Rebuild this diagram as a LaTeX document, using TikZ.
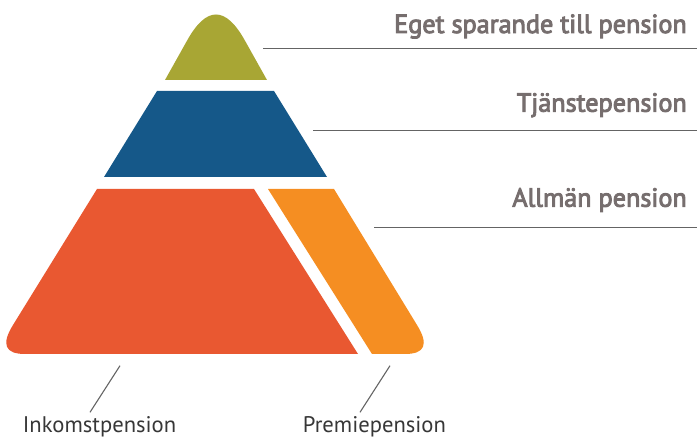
\documentclass[tikz,border=0pt]{standalone}
\usepackage{fontspec}
\setmainfont{PT Sans}
\newfontfamily\headfont[FakeBold=3.5]{PT Sans}
\newfontfamily\labfont{PT Sans}
\definecolor{cgreen}{RGB}{168,166,52}
\definecolor{cblue}{RGB}{21,88,137}
\definecolor{cred}{RGB}{233,88,49}
\definecolor{corange}{RGB}{245,142,34}
\definecolor{cline}{RGB}{100,100,100}
\definecolor{chead}{RGB}{118,110,110}
\definecolor{clab}{RGB}{55,55,55}
\tikzset{
  leader/.style={draw=cline, line width=1.1pt},
  head/.style={inner sep=0pt, anchor=base east, text=chead, font=\headfont\fontsize{26.2}{29}\selectfont},
  lab/.style={inner sep=0pt, anchor=base west, text=clab, font=\labfont\fontsize{22.6}{26}\selectfont},
}
\begin{document}
\begin{tikzpicture}[x=1pt,y=-1pt]
\useasboundingbox (0,0) rectangle (697,438);
% pyramid layers
\fill[cgreen] (165,80) -- (187.4,40) .. controls (206.5,6) and (225.5,6) .. (244.6,40) -- (267,80) -- cycle;
\fill[cblue] (157,91) -- (274,91) -- (327,177) -- (104,177) -- cycle;
\fill[cred] (97,189) -- (254,189) -- (358,354) -- (25,354) .. controls (5,354) and (1,344.3) .. (13,325) -- cycle;
\fill[corange] (268,189) -- (334,189) -- (417,325) .. controls (429,344.3) and (425,354) .. (405,354) -- (372,354) -- cycle;
% labels
\node[head] (eget) at (687,33) {Eget sparande till pension};
\node[head] (tjanst) at (687,111.7) {Tjänstepension};
\node[head] (allman) at (687,206.7) {Allmän pension};
\node[lab] (inkomst) at (22.7,433) {Inkomstpension};
\node[lab] (premie) at (302.7,433) {Premiepension};
% leader ends
\coordinate (egetL) at (263,48.7);
\coordinate (egetR) at (697,48.7);
\coordinate (tjanstL) at (313,130.3);
\coordinate (tjanstR) at (697,130.3);
\coordinate (allmanL) at (374,227.7);
\coordinate (allmanR) at (697,227.7);
\coordinate (inkA) at (120,365.7);
\coordinate (inkB) at (90,412.3);
\coordinate (preA) at (390,365.7);
\coordinate (preB) at (360,412.3);
\draw[leader] (egetL) -- (egetR);
\draw[leader] (tjanstL) -- (tjanstR);
\draw[leader] (allmanL) -- (allmanR);
\draw[leader] (inkA) -- (inkB);
\draw[leader] (preA) -- (preB);
\end{tikzpicture}
\end{document}
